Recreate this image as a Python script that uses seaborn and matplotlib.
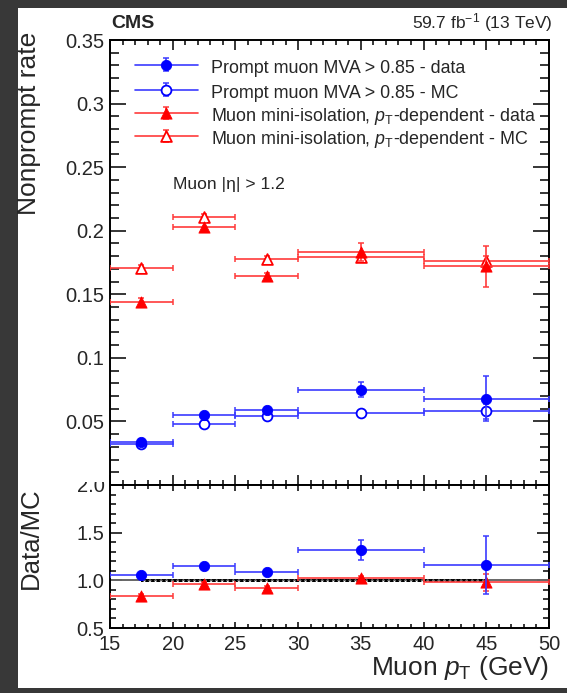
import matplotlib
matplotlib.use("Agg")
import matplotlib.pyplot as plt
from matplotlib.lines import Line2D
from matplotlib.patches import Rectangle
from matplotlib.legend import Legend
from matplotlib.container import ErrorbarContainer
from matplotlib.legend_handler import HandlerErrorbar, HandlerTuple
from matplotlib.ticker import MultipleLocator, FixedLocator, FixedFormatter
import numpy as np
import seaborn as sns

# ---- data -------------------------------------------------------------
bin_lo = [15, 20, 25, 30, 40]
bin_hi = [20, 25, 30, 40, 50]

mva_data = [0.034, 0.055, 0.059, 0.075, 0.068]
mva_data_err = [0.002, 0.002, 0.002, 0.006, 0.018]
mva_mc = [0.032, 0.048, 0.0545, 0.057, 0.058]
mva_mc_err = [0.001, 0.001, 0.001, 0.001, 0.006]

iso_data = [0.144, 0.203, 0.164, 0.183, 0.172]
iso_data_err = [0.003, 0.003, 0.003, 0.007, 0.016]
iso_mc = [0.171, 0.211, 0.178, 0.179, 0.176]
iso_mc_err = [0.002, 0.002, 0.002, 0.003, 0.004]

mva_ratio = [1.06, 1.15, 1.09, 1.32, 1.16]
mva_ratio_err = [0.02, 0.02, 0.02, 0.105, 0.30]
iso_ratio = [0.84, 0.96, 0.92, 1.02, 0.98]
iso_ratio_err = [0.02, 0.02, 0.02, 0.03, 0.09]

band_x = [17.5, 45]

upper_ticks = [0.05, 0.1, 0.15, 0.2, 0.25, 0.3, 0.35]
upper_tick_labels = ["0.05", "0.1", "0.15", "0.2", "0.25", "0.3", "0.35"]
lower_ticks = [0.5, 1.0, 1.5, 2.0]
lower_tick_labels = ["0.5", "1.0", "1.5", "2.0"]
x_ticks = [15, 20, 25, 30, 35, 40, 45, 50]

labels = [
    "Prompt muon MVA > 0.85 - data",
    "Prompt muon MVA > 0.85 - MC",
    r"Muon mini-isolation, $p_{\mathrm{T}}$-dependent - data",
    r"Muon mini-isolation, $p_{\mathrm{T}}$-dependent - MC",
]

# ---- style ------------------------------------------------------------
sns.set_theme(style="ticks")
plt.rcParams["font.family"] = ["Liberation Sans", "DejaVu Sans"]
plt.rcParams["mathtext.fontset"] = "custom"
plt.rcParams["mathtext.rm"] = "Liberation Sans"
plt.rcParams["mathtext.it"] = "Liberation Sans:italic"
plt.rcParams["mathtext.bf"] = "Liberation Sans:bold"
plt.rcParams["axes.linewidth"] = 1.4

BLUE = "#0000ff"
BLUE_L = "#3b3bff"
RED = "#ff0000"
RED_L = "#ff3b3b"

W, H = 567, 693
fig = plt.figure(figsize=(W / 100, H / 100), dpi=100, facecolor="#383838")


def fx(px):
    return px / W


def fy(py):
    return 1 - py / H


# white canvas inside the dark frame
fig.patches.append(Rectangle((fx(18), fy(688)), 1 - fx(18), fy(8) - fy(688),
                             transform=fig.transFigure, facecolor="white",
                             edgecolor="none", zorder=-1))

L, R = 110, 549
ax = fig.add_axes([fx(L), fy(485), fx(R) - fx(L), fy(40) - fy(485)])
ax2 = fig.add_axes([fx(L), fy(628), fx(R) - fx(L), fy(485) - fy(628)])

centers = [(a + b) / 2 for a, b in zip(bin_lo, bin_hi)]
half = [(b - a) / 2 for a, b in zip(bin_lo, bin_hi)]


def draw_series(axis, y, yerr, line_col, mcol, marker, filled, size, z):
    eb = axis.errorbar(centers, y, xerr=half, yerr=yerr, fmt="none",
                       ecolor=line_col, elinewidth=1.2, capsize=2.2,
                       capthick=1.1, zorder=z)
    sns.scatterplot(x=centers, y=y, ax=axis, marker=marker, s=size,
                    color=mcol if filled else "white", edgecolor=mcol,
                    linewidth=0.6 if filled else 1.3, zorder=z + 1,
                    legend=False)
    sc = axis.collections[-1]
    return eb, sc


handles = {}
handles["mva_mc"] = draw_series(ax, mva_mc, mva_mc_err, BLUE_L, BLUE, "o", False, 50, 3)
handles["mva_data"] = draw_series(ax, mva_data, mva_data_err, BLUE_L, BLUE, "o", True, 55, 5)
handles["iso_mc"] = draw_series(ax, iso_mc, iso_mc_err, RED_L, RED, "^", False, 60, 3)
handles["iso_data"] = draw_series(ax, iso_data, iso_data_err, RED_L, RED, "^", True, 65, 5)

ax.set_xlim(15, 50)
ax.set_ylim(0, 0.35)
ax.yaxis.set_major_locator(FixedLocator(upper_ticks))
ax.yaxis.set_major_formatter(FixedFormatter(upper_tick_labels))
ax.yaxis.set_minor_locator(MultipleLocator(0.01))
ax.xaxis.set_major_locator(FixedLocator(x_ticks))
ax.xaxis.set_minor_locator(MultipleLocator(1))
ax.tick_params(axis="x", which="both", labelbottom=False)
ax.tick_params(which="both", direction="in", top=True, right=True,
               width=1.1, color="black")
ax.tick_params(axis="y", which="major", length=11.5, labelsize=14.5, pad=4)
ax.tick_params(axis="y", which="minor", length=6.5)
ax.tick_params(axis="x", which="major", length=7)
ax.tick_params(axis="x", which="minor", length=3.6)
for s in ax.spines.values():
    s.set_color("black")

# legend: one single-entry legend per row so the rows sit on an even pitch
row_y = [67, 92, 116, 139]
order = [("mva_data", BLUE_L), ("mva_mc", BLUE_L), ("iso_data", RED_L), ("iso_mc", RED_L)]
for (key, col), lab, yy in zip(order, labels, row_y):
    eb, sc = handles[key]
    h = (Line2D([], [], color=col, lw=1.2), eb, sc)
    lg = Legend(ax, [h], [lab], loc="center left",
                bbox_to_anchor=(fx(135), fy(yy)), bbox_transform=fig.transFigure,
                frameon=False, fontsize=12.9, handlelength=3.5, handletextpad=0.72,
                handleheight=1.4, borderpad=0, borderaxespad=0, scatterpoints=1,
                handler_map={tuple: HandlerTuple(ndivide=1),
                             ErrorbarContainer: HandlerErrorbar(xerr_size=0, yerr_size=0.36)})
    ax.add_artist(lg)

ax.text(fx(173), fy(184), r"Muon |η| > 1.2", transform=fig.transFigure,
        fontsize=12.6, ha="left", va="center")

# ---- ratio panel ------------------------------------------------------
ax2.axhline(1.0, color="#666666", lw=1.4, zorder=1)
ax2.fill_between(band_x, [0.985, 0.985], [1.015, 1.015], facecolor="none",
                 edgecolor="black", hatch="xxxxxx", linewidth=0, zorder=2)

draw_series(ax2, iso_ratio, iso_ratio_err, RED_L, RED, "^", True, 65, 3)
draw_series(ax2, mva_ratio, mva_ratio_err, BLUE_L, BLUE, "o", True, 55, 5)

ax2.set_xlim(15, 50)
ax2.set_ylim(0.5, 2.0)
ax2.yaxis.set_major_locator(FixedLocator(lower_ticks))
ax2.yaxis.set_major_formatter(FixedFormatter(lower_tick_labels))
ax2.yaxis.set_minor_locator(MultipleLocator(0.1))
ax2.xaxis.set_major_locator(FixedLocator(x_ticks))
ax2.xaxis.set_minor_locator(MultipleLocator(1))
ax2.tick_params(which="both", direction="in", top=True, right=True,
                width=1.1, color="black")
ax2.tick_params(axis="y", which="major", length=8.6, labelsize=14.5, pad=4)
ax2.tick_params(axis="y", which="minor", length=4.3)
ax2.tick_params(axis="x", which="major", length=4.5, labelsize=14.5, pad=5)
ax2.tick_params(axis="x", which="minor", length=2.8)
for s in ax2.spines.values():
    s.set_color("black")

# the upper pad hides the top of the "2.0" label
fig.patches.append(Rectangle((fx(60), fy(482)), fx(108) - fx(60), fy(470) - fy(482),
                             transform=fig.transFigure, facecolor="white",
                             edgecolor="none", zorder=5))

# ---- labels -----------------------------------------------------------
fig.text(fx(29), fy(32), "Nonprompt rate", rotation=90, ha="center", va="top",
         fontsize=19)
fig.text(fx(31), fy(487), "Data/MC", rotation=90, ha="center", va="top",
         fontsize=18.5)
fig.text(fx(549), fy(668), r"Muon $p_{\mathrm{T}}$ (GeV)", ha="right",
         va="center", fontsize=19)
fig.text(fx(111), fy(28), "CMS", ha="left", va="baseline", fontsize=14,
         fontweight="bold")
fig.text(fx(553), fy(28), r"59.7 fb$^{-1}$ (13 TeV)", ha="right",
         va="baseline", fontsize=12.5)

fig.savefig("out.png", dpi=100, facecolor=fig.get_facecolor())
